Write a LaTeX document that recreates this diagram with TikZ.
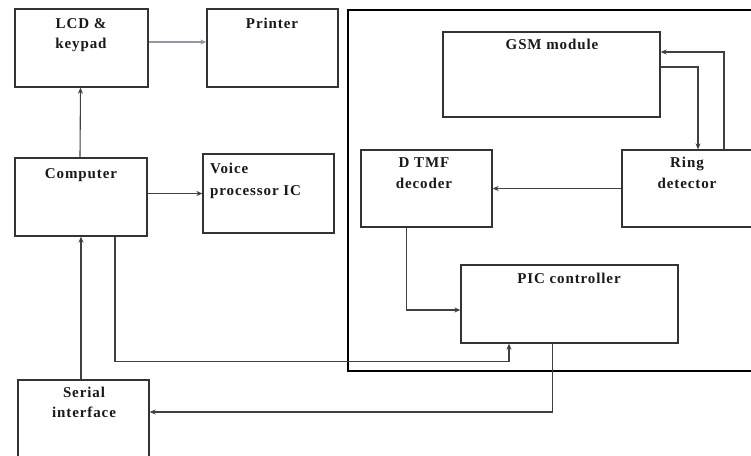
\documentclass[tikz,border=0pt]{standalone}
\usepackage{fontspec}
\setmainfont{Liberation Serif}[LetterSpace=6]
\usetikzlibrary{fit,arrows.meta}
\begin{document}
\begin{tikzpicture}[x=1pt,y=-1pt,
  box/.style={draw=black!80, line width=1.3pt, inner sep=0pt, fill=none},
  frame/.style={draw=black, line width=1.2pt, inner sep=0pt},
  lbl/.style={inner sep=0pt, font=\fontsize{15}{18}\selectfont\bfseries, text=black!90},
  conn/.style={draw=black!75, line width=1.1pt, -{Stealth[length=6pt,width=5pt]}},
  lconn/.style={draw=black!35!blue!20!gray!70, line width=1.1pt, -{Stealth[length=6pt,width=5pt]}}]
\useasboundingbox (0,0) rectangle (751,455);
\fill[white] (0,0) rectangle (751,455);
\clip (0,0) rectangle (751,455);

% boxes
\node[box, fit={(15,9) (148,87)}] (lcd) {};
\node[box, fit={(207,9) (338,87)}] (printer) {};
\node[box, fit={(15,158) (147,236)}] (computer) {};
\node[box, fit={(203,154) (334,233)}] (voice) {};
\node[box, fit={(18,380) (149,462)}] (serial) {};
\node[frame, fit={(348,10) (770,371)}] (frame) {};
\node[box, fit={(443,32) (660,117)}] (gsm) {};
\node[box, fit={(361,150) (492,227)}] (dtmf) {};
\node[box, fit={(622,150) (755,227)}] (ring) {};
\node[box, fit={(461,265) (678,343)}] (pic) {};

% labels
\node[lbl, anchor=base] (lcdt1) at (81,28) {LCD \&};
\node[lbl, anchor=base] (lcdt2) at (81,48) {keypad};
\node[lbl, anchor=base] (printert) at (272,28) {Printer};
\node[lbl, anchor=base] (computert) at (81,178) {Computer};
\node[lbl, anchor=base west] (voicet1) at (210,173) {Voice};
\node[lbl, anchor=base west] (voicet2) at (210,195) {processor IC};
\node[lbl, anchor=base] (serialt1) at (84,397) {Serial};
\node[lbl, anchor=base] (serialt2) at (84,417) {interface};
\node[lbl, anchor=base] (gsmt) at (552,49) {GSM module};
\node[lbl, anchor=base] (dtmft1) at (424,167) {D TMF};
\node[lbl, anchor=base] (dtmft2) at (424,188) {decoder};
\node[lbl, anchor=base] (ringt1) at (687,167) {Ring};
\node[lbl, anchor=base] (ringt2) at (687,188) {detector};
\node[lbl, anchor=base] (pict) at (569,283) {PIC controller};

% connectors
\draw[lconn] ([yshift=6pt]lcd.east) -- ([yshift=6pt]printer.west);
\draw[conn] ([xshift=-1pt]computer.north) -- ([xshift=-1pt]lcd.south);
\draw[conn] (computer.east |- voice.west) -- (voice.west);
\draw[conn] (computer.south |- serial.north) -- (computer.south);
\draw[conn] ([xshift=34pt]computer.south) -- ++(0,125) -| ([xshift=-60.5pt]pic.south);
\draw[conn] ([xshift=-17pt]pic.south) |- ([yshift=9pt]serial.east);
\draw[conn] ([xshift=-20pt]dtmf.south) |- ([yshift=-6pt]pic.west);
\draw[conn] (ring.west) -- (dtmf.east);
\draw[conn] ([yshift=7.5pt]gsm.east) -| ([xshift=9.5pt]ring.north);
\draw[conn] ([xshift=35.5pt]ring.north) |- ([yshift=22.5pt]gsm.east);
\end{tikzpicture}
\end{document}
